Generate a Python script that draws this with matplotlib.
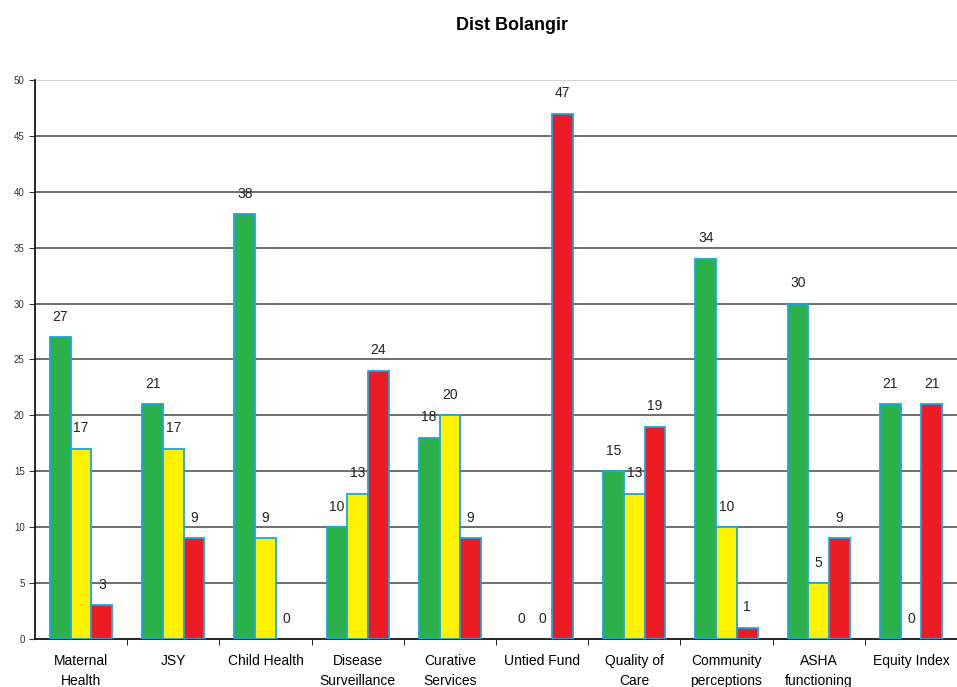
import numpy as np
import matplotlib.pyplot as plt

plt.rcParams['font.family'] = ['Liberation Sans', 'DejaVu Sans']

categories = ['Maternal\nHealth', 'JSY', 'Child Health', 'Disease\nSurveillance',
              'Curative\nServices', 'Untied Fund', 'Quality of\nCare',
              'Community\nperceptions', 'ASHA\nfunctioning', 'Equity Index']
green_vals = [27, 21, 38, 10, 18, 0, 15, 34, 30, 21]
yellow_vals = [17, 17, 9, 13, 20, 0, 13, 10, 5, 0]
red_vals = [3, 9, 0, 24, 9, 47, 19, 1, 9, 21]

colors = ['#2bb04a', '#fff200', '#ed1c24']
edge = '#1aa6e0'

fig = plt.figure(figsize=(9.57, 6.87), dpi=100)
ax = fig.add_axes([0.0366, 0.0699, 0.9634, 0.8137])

x = np.arange(len(categories))
w = 0.225
for k, (vals, c) in enumerate(zip([green_vals, yellow_vals, red_vals], colors)):
    pos = x + (k - 1) * w
    # zero-height bars get no outline so nothing shows on the baseline
    edges = [edge if v > 0 else 'none' for v in vals]
    ax.bar(pos, vals, width=w, color=c, edgecolor=edges, linewidth=1.3, zorder=3)
    for px, v in zip(pos, vals):
        ax.text(px, v + 1.2, str(v), ha='center', va='bottom', fontsize=10, color='#222222')

ax.set_ylim(0, 50)
ax.set_xlim(-0.5, 9.5)
ax.set_yticks(range(0, 51, 5))
ax.tick_params(axis='y', labelsize=7, length=4, direction='out', colors='#333333')
for y in range(5, 50, 5):
    ax.axhline(y, color='#555555', linewidth=1.2, zorder=1)
ax.axhline(50, color='#cccccc', linewidth=1.2, zorder=1)

# category labels centred, tick marks between the groups
ax.set_xticks(x)
ax.set_xticklabels(categories, fontsize=10, linespacing=1.5)
ax.tick_params(axis='x', length=0, pad=11)
ax.set_xticks(np.arange(0.5, 9.5, 1), minor=True)
ax.tick_params(axis='x', which='minor', length=4, direction='out')

for s in ['top', 'right']:
    ax.spines[s].set_visible(False)
ax.spines['left'].set_linewidth(1.2)
ax.spines['bottom'].set_linewidth(1.2)

fig.text(0.535, 0.963, 'Dist Bolangir', ha='center', va='center', fontsize=13, fontweight='bold')

fig.savefig('out.png', dpi=100)
